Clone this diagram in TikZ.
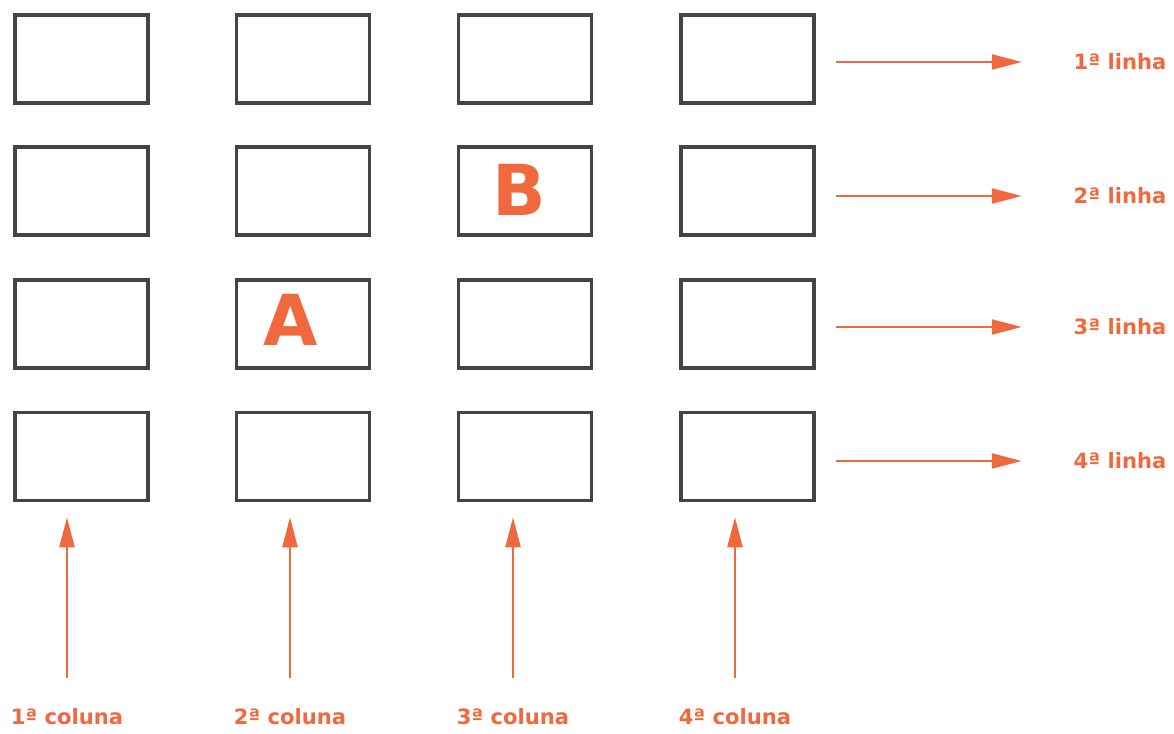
\documentclass[tikz,border=0pt]{standalone}
\usepackage{fontspec}
\setmainfont{DejaVu Sans}
\usetikzlibrary{arrows.meta, positioning, calc}
\definecolor{laranja}{RGB}{240,104,62}
\definecolor{contorno}{RGB}{68,68,68}
\tikzset{
    cellbox/.style={rectangle, draw=contorno, line width=3pt, minimum width=3.99cm, minimum height=2.64cm, inner sep=0pt},
    arrow/.style={-{Triangle[length=9mm, width=4.5mm]}, line width=2pt, laranja},
    rotulo/.style={text=laranja, font=\bfseries\fontsize{18}{20}\selectfont, inner sep=0pt},
    letra/.style={text=laranja, font=\bfseries\fontsize{60}{60}\selectfont, inner sep=0pt},
}

\begin{document}
\begin{tikzpicture}[x=0.03cm, y=-0.03cm]
\useasboundingbox (0,0) rectangle (1174,734);

% Grid of boxes
\foreach \c/\xc in {1/81.5, 2/303, 3/525, 4/747.5}{
  \foreach \r/\yc in {1/59, 2/191, 3/324, 4/456.5}{
    \node[cellbox] (b\r\c) at (\xc,\yc) {};
  }
}

% Letters
\node[letra] (la) at ($(b32)+(-12,-4)$) {A};
\node[letra] (lb) at ($(b23)+(-6,-1)$) {B};

% Row labels
\node[rotulo] (l1) at (1120,62) {1ª linha};
\node[rotulo] (l2) at (1120,196) {2ª linha};
\node[rotulo] (l3) at (1120,327) {3ª linha};
\node[rotulo] (l4) at (1120,461) {4ª linha};

% Column labels
\node[rotulo] (c1) at (67,717) {1ª coluna};
\node[rotulo] (c2) at (290,717) {2ª coluna};
\node[rotulo] (c3) at (513,717) {3ª coluna};
\node[rotulo] (c4) at (735,717) {4ª coluna};

% Row arrows
\foreach \r in {1,...,4}{
  \draw[arrow, shorten <=0.6cm, shorten >=1.55cm] (b\r4.east |- l\r) -- (l\r.west);
}

% Column arrows
\foreach \c in {1,...,4}{
  \draw[arrow, shorten <=0.93cm, shorten >=0.45cm] (c\c.north) -- (c\c.north |- b4\c.south);
}
\end{tikzpicture}
\end{document}
